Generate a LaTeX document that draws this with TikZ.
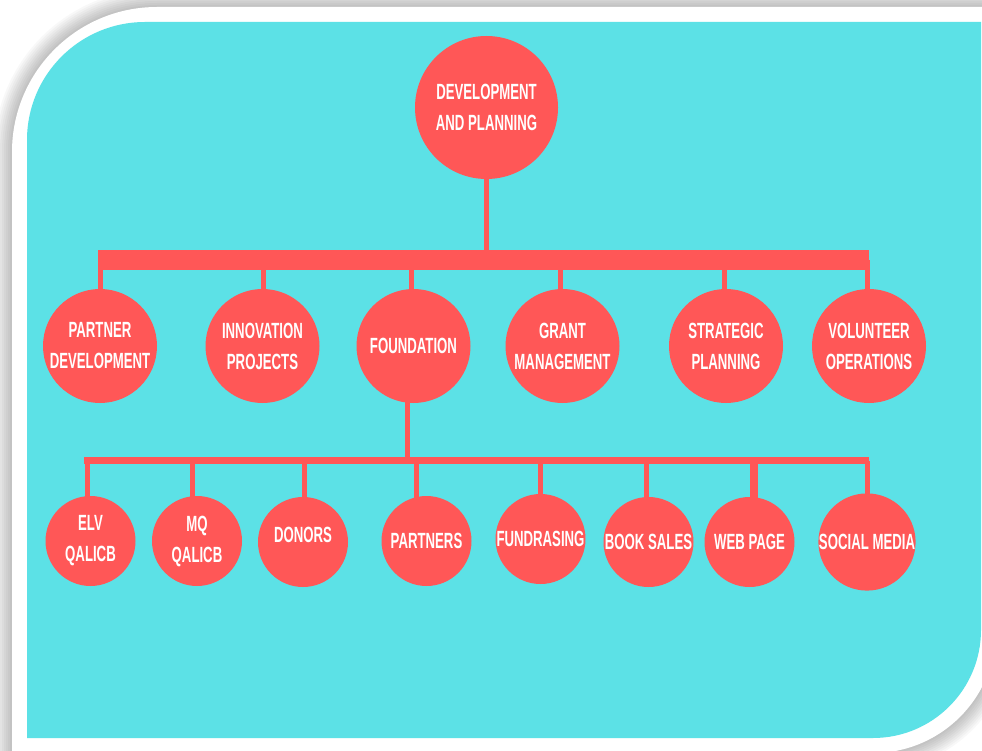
\documentclass[tikz,border=0pt]{standalone}
\usepackage{fontspec}
\newfontfamily\chartfont[FakeStretch=0.6]{Liberation Sans}
\definecolor{sky}{HTML}{5CE1E6}
\definecolor{coral}{HTML}{FF5757}
\pgfdeclarelayer{bg}
\pgfdeclarelayer{links}
\pgfsetlayers{bg,links,main}
\newcommand\whiteoutline{(12,753) -- (12,152) .. controls (12,71.9) and (76.9,7) .. (157,7) -- (996,7) -- (996,630) .. controls (996,697.9) and (940.9,753) .. (873,753) -- cycle}
\tikzset{
  ball/.style={circle, fill=coral, inner sep=0pt, text=white,
    font=\chartfont\bfseries\fontsize{22}{31}\selectfont, align=center},
  bigball/.style={ball, minimum size=143pt},
  midball/.style={ball, minimum size=114pt},
  smallball/.style={ball, minimum size=90pt},
  stem/.style={draw=coral, line width=5pt},
  thickbar/.style={draw=coral, line width=20pt},
  thinbar/.style={draw=coral, line width=7pt},
}
\begin{document}
\begin{tikzpicture}[x=1pt,y=-1pt]
\useasboundingbox (0,0) rectangle (982,751);
\begin{pgfonlayer}{bg}
  \fill[white] (0,0) rectangle (982,751);
  \foreach \w in {36,32,28,24,20,16,12,8,4}{
    \draw[line width=\w pt, black, opacity=0.028] \whiteoutline;
  }
  \fill[white] \whiteoutline;
  \fill[sky] (27,738) -- (27,140) .. controls (27,74.8) and (79.8,22) .. (145,22)
    -- (981,22) -- (981,630) .. controls (981,689.6) and (932.6,738) .. (873,738) -- cycle;
\end{pgfonlayer}

% nodes
\node[bigball] (dev) at (486.5,107.5) {DEVELOPMENT\\AND PLANNING};

\node[midball] (pd) at (100,346) {PARTNER\\DEVELOPMENT};
\node[midball] (ip) at (262.5,346) {INNOVATION\\PROJECTS};
\node[midball] (fd) at (413.5,346) {FOUNDATION};
\node[midball] (gm) at (562.5,346) {GRANT\\MANAGEMENT};
\node[midball] (sp) at (726,346) {STRATEGIC\\PLANNING};
\node[midball] (vo) at (869,346) {VOLUNTEER\\OPERATIONS};

\node[smallball] (elv) at (90.5,541) {ELV\\QALICB};
\node[smallball] (mq) at (197,541) {MQ\\QALICB};
\node[smallball, label={[text=white, font=\chartfont\bfseries\fontsize{22}{31}\selectfont, yshift=7pt]center:DONORS}] (don) at (303,542) {};
\node[smallball] (par) at (426.5,541) {PARTNERS};
\node[smallball] (fun) at (540.5,539) {FUNDRASING};
\node[smallball] (book) at (648.5,542) {BOOK SALES};
\node[smallball] (web) at (749.5,542) {WEB PAGE};
\node[smallball, minimum size=94pt] (soc) at (867,542) {SOCIAL MEDIA};

\coordinate (bar1) at (0,260);
\coordinate (bar2) at (0,460.5);

\begin{pgfonlayer}{links}
  % top level
  \draw[stem] (dev.center) -- (dev.center |- bar1);
  \coordinate (b1L) at (pd.center |- bar1);
  \coordinate (b1R) at (vo.center |- bar1);
  \draw[thickbar] ([xshift=-2pt]b1L) -- (b1R);
  \foreach \n/\d in {pd/0.5, ip/0.5, fd/-2.5, gm/-2.5, sp/-2, vo/-2}{
    \coordinate (s) at ([xshift=\d pt]\n.center);
    \draw[stem] (s) -- (s |- bar1);
  }
  % foundation branch
  \coordinate (f) at ([xshift=-6.5pt]fd.center);
  \draw[stem] (f) -- (f |- bar2);
  \coordinate (b2L) at (elv.center |- bar2);
  \coordinate (b2R) at (soc.center |- bar2);
  \draw[thinbar] ([xshift=-6.5pt]b2L) -- ([xshift=2pt]b2R);
  \foreach \n/\d in {elv/-3.5, mq/-5, don/1, par/-10.5, fun/-0.5, book/-2.5, soc/0}{
    \coordinate (s) at ([xshift=\d pt]\n.center);
    \draw[stem] (s) -- (s |- bar2);
  }
  \coordinate (w) at ([xshift=4.5pt]web.center);
  \draw[stem, line width=8pt] (w) -- (w |- bar2);
\end{pgfonlayer}
\end{tikzpicture}
\end{document}
